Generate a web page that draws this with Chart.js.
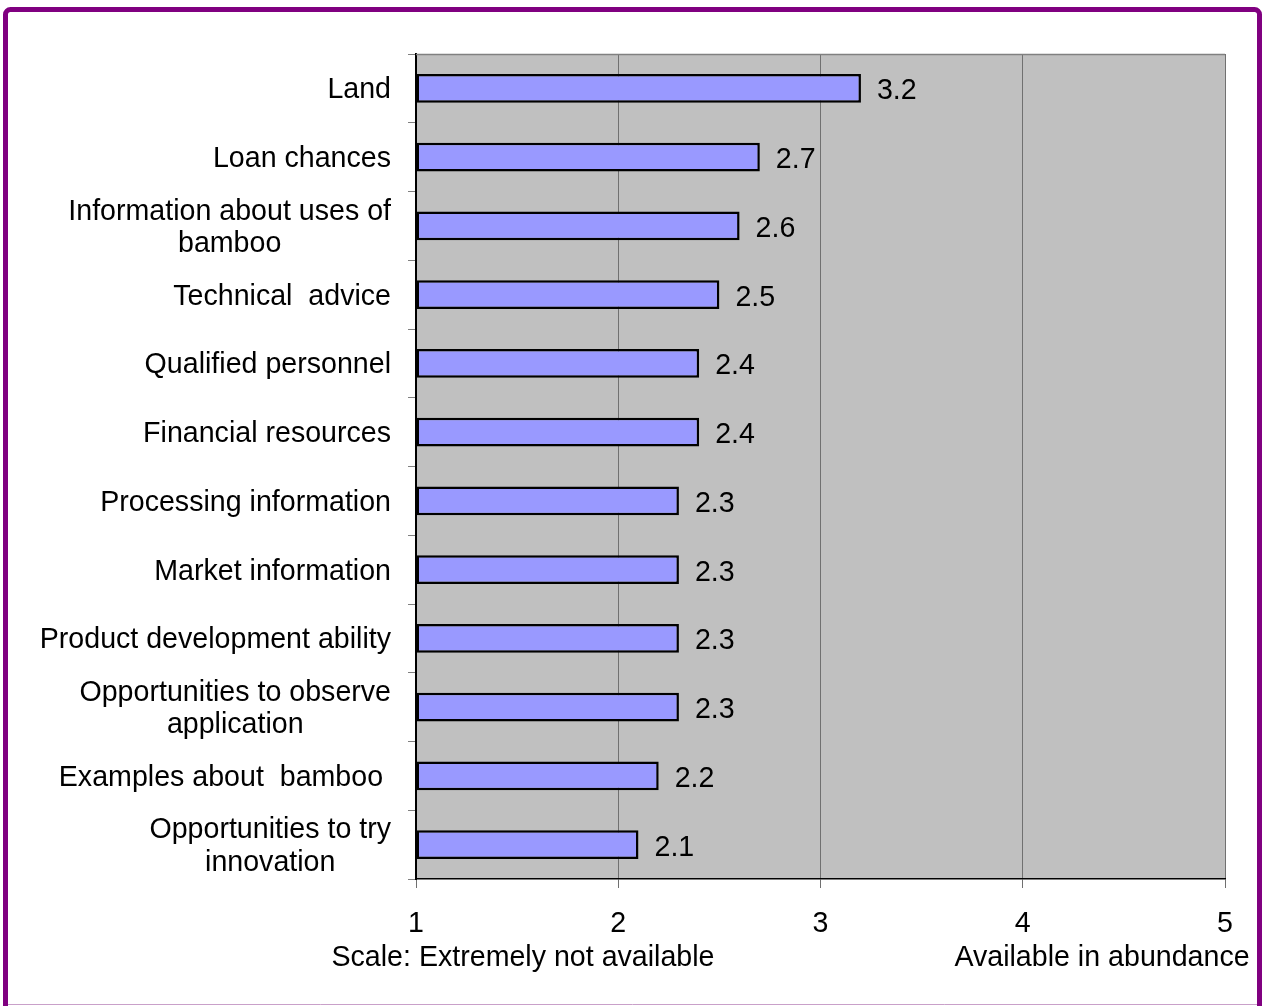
<!DOCTYPE html>
<html>
<head>
<meta charset="utf-8">
<style>
  html, body { margin: 0; padding: 0; background: #ffffff; overflow: hidden; }
  canvas { display: block; }
</style>
<script src="https://cdn.jsdelivr.net/npm/chart.js@4.4.1/dist/chart.umd.min.js"></script>
</head>
<body>
<canvas id="chart" width="1265" height="1006"></canvas>
<script>
// Availability items (top to bottom)
const categories = [
  'Land',
  'Loan chances',
  ['Information about uses of', 'bamboo'],
  'Technical  advice',
  'Qualified personnel',
  'Financial resources',
  'Processing information',
  'Market information',
  'Product development ability',
  ['Opportunities to observe', 'application'],
  'Examples about  bamboo ',
  ['Opportunities to try', 'innovation']
];

// Mean availability score per item
const scores = [3.2, 2.7, 2.6, 2.5, 2.4, 2.4, 2.3, 2.3, 2.3, 2.3, 2.2, 2.1];

// Rating scale ticks and end-point captions
const scaleTicks = [1, 2, 3, 4, 5];
const scaleLowCaption = 'Scale: Extremely not available';
const scaleHighCaption = 'Available in abundance';

const FONT_FAMILY = '"Liberation Sans", Arial, Helvetica, sans-serif';
const FONT_SIZE = 28.6;

// White page, grey plotting area and purple outer frame
const backdrop = {
  id: 'backdrop',
  beforeDraw(chart) {
    const { ctx, chartArea: a } = chart;
    ctx.save();
    ctx.fillStyle = '#ffffff';
    ctx.fillRect(0, 0, chart.width, chart.height);
    ctx.fillStyle = '#c0c0c0';
    ctx.fillRect(a.left, a.top, a.right - a.left, a.bottom - a.top);
    ctx.restore();
  },
  afterDraw(chart) {
    const { ctx, chartArea: a } = chart;
    ctx.save();
    // top edge of the plotting frame
    ctx.strokeStyle = '#808080';
    ctx.lineWidth = 1.5;
    ctx.beginPath();
    ctx.moveTo(a.left, a.top + 0.5);
    ctx.lineTo(a.right, a.top + 0.5);
    ctx.stroke();
    // outer frame
    ctx.strokeStyle = '#800080';
    ctx.lineWidth = 5;
    ctx.beginPath();
    ctx.roundRect(5.5, 9.5, 1254, 1020, 5);
    ctx.stroke();
    ctx.strokeStyle = '#c9a0c9';
    ctx.lineWidth = 1;
    ctx.beginPath();
    ctx.moveTo(8, 1004.5);
    ctx.lineTo(1257, 1004.5);
    ctx.stroke();
    ctx.restore();
  }
};

// Category names: right-aligned block, lines centred within it
const categoryLabels = {
  id: 'categoryLabels',
  afterDraw(chart) {
    const { ctx } = chart;
    const yScale = chart.scales.y;
    const rightEdge = yScale.right - 25;
    const lineHeight = 32.5;
    ctx.save();
    ctx.font = FONT_SIZE + 'px ' + FONT_FAMILY;
    ctx.fillStyle = '#000000';
    ctx.textAlign = 'center';
    ctx.textBaseline = 'middle';
    chart.data.labels.forEach((label, i) => {
      const lines = Array.isArray(label) ? label : [label];
      const width = Math.max(...lines.map(l => ctx.measureText(l).width));
      const cx = rightEdge - width / 2;
      const cy = yScale.getPixelForValue(i) + 2;
      lines.forEach((line, k) => {
        ctx.fillText(line, cx, cy + (k - (lines.length - 1) / 2) * lineHeight);
      });
    });
    ctx.restore();
  }
};

// Value labels to the right of each bar
const valueLabels = {
  id: 'valueLabels',
  afterDatasetsDraw(chart) {
    const { ctx } = chart;
    const meta = chart.getDatasetMeta(0);
    ctx.save();
    ctx.font = FONT_SIZE + 'px ' + FONT_FAMILY;
    ctx.fillStyle = '#000000';
    ctx.textAlign = 'left';
    ctx.textBaseline = 'middle';
    meta.data.forEach((bar, i) => {
      ctx.fillText(scores[i].toFixed(1), bar.x + 16, bar.y + 3);
    });
    ctx.restore();
  }
};

// Captions for the two ends of the rating scale
const scaleCaptions = {
  id: 'scaleCaptions',
  afterDraw(chart) {
    const { ctx } = chart;
    const xScale = chart.scales.x;
    const y = xScale.bottom - 48;
    ctx.save();
    ctx.font = FONT_SIZE + 'px ' + FONT_FAMILY;
    ctx.fillStyle = '#000000';
    ctx.textBaseline = 'middle';
    ctx.textAlign = 'center';
    ctx.fillText(scaleLowCaption, 523, y);
    ctx.fillText(scaleHighCaption, 1102, y);
    ctx.restore();
  }
};

new Chart(document.getElementById('chart'), {
  type: 'bar',
  data: {
    labels: categories,
    datasets: [{
      data: scores,
      base: 1,
      backgroundColor: '#9999ff',
      borderColor: '#000000',
      borderWidth: 2.5,
      borderSkipped: false,
      barPercentage: 0.42,
      categoryPercentage: 1.0
    }]
  },
  options: {
    indexAxis: 'y',
    responsive: false,
    animation: false,
    devicePixelRatio: 1,
    layout: { padding: { top: 54, right: 40, bottom: 0, left: 0 } },
    plugins: {
      legend: { display: false },
      tooltip: { enabled: false }
    },
    scales: {
      x: {
        type: 'linear',
        position: 'bottom',
        min: 1,
        max: 5,
        afterBuildTicks(scale) {
          scale.ticks = scaleTicks.map(v => ({ value: v }));
        },
        afterFit(scale) { scale.height = 127; },
        ticks: {
          color: '#000000',
          font: { family: FONT_FAMILY, size: FONT_SIZE },
          padding: 19,
          maxRotation: 0,
          autoSkip: false
        },
        grid: {
          color: '#707070',
          lineWidth: 1,
          drawTicks: true,
          tickLength: 9
        },
        border: { color: '#000000', width: 1.5 }
      },
      y: {
        type: 'category',
        position: 'left',
        offset: true,
        afterFit(scale) { scale.width = 416; },
        ticks: { display: false },
        grid: {
          offset: true,
          drawOnChartArea: false,
          drawTicks: true,
          tickLength: 8,
          color: '#808080'
        },
        border: { color: '#000000', width: 2 }
      }
    }
  },
  plugins: [backdrop, categoryLabels, valueLabels, scaleCaptions]
});
</script>
</body>
</html>
